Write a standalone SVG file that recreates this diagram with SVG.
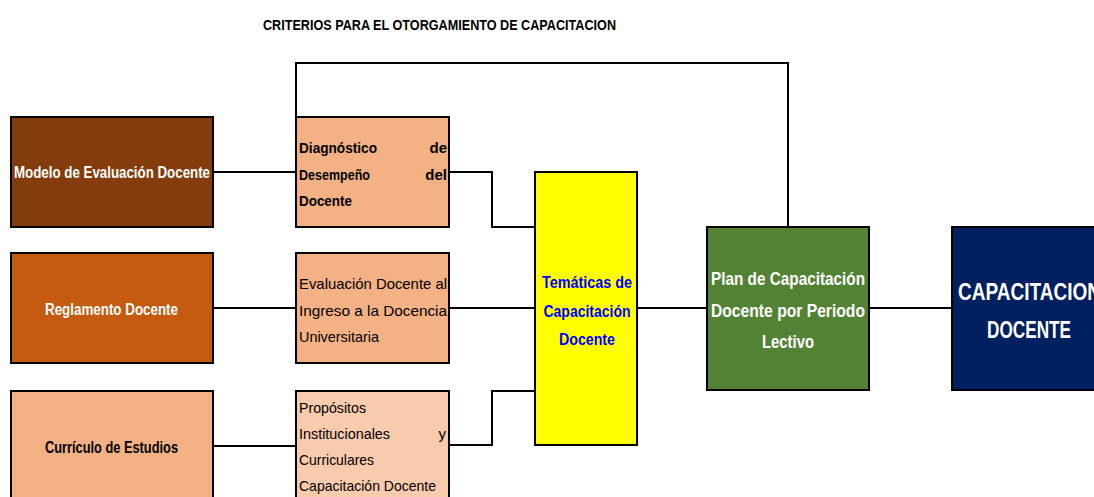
<svg xmlns="http://www.w3.org/2000/svg" width="1094" height="497" viewBox="0 0 1094 497">
<style>
text{font-family:"Liberation Sans",Arial,sans-serif;}
.b{font-weight:bold;}
.box{stroke:#000;stroke-width:2;}
.ln{fill:none;stroke:#000;stroke-width:2;}
.w{fill:#fff;}
.k{fill:#000;}
.mid{text-anchor:middle;}
</style>
<rect width="1094" height="497" fill="#fff"/>
<text id="title" class="b k" x="263" y="30" font-size="14.5" textLength="353" lengthAdjust="spacingAndGlyphs">CRITERIOS PARA EL OTORGAMIENTO DE CAPACITACION</text>
<g id="connectors">
<polyline class="ln" points="296,117 296,63 788,63 788,227"/>
<line class="ln" x1="213" y1="172" x2="296" y2="172"/>
<polyline class="ln" points="449,172 492,172 492,227 535,227"/>
<line class="ln" x1="213" y1="308" x2="296" y2="308"/>
<line class="ln" x1="449" y1="308" x2="535" y2="308"/>
<line class="ln" x1="213" y1="446" x2="296" y2="446"/>
<polyline class="ln" points="449,445 492,445 492,391 535,391"/>
<line class="ln" x1="637" y1="308" x2="707" y2="308"/>
<line class="ln" x1="869" y1="308" x2="952" y2="308"/>
</g>
<g id="modelo">
<rect class="box" x="11" y="117" width="202" height="110" fill="#843C0C"/>
<text class="b w" x="14" y="178" font-size="16" textLength="196" lengthAdjust="spacingAndGlyphs">Modelo de Evaluación Docente</text>
</g>
<g id="reglamento">
<rect class="box" x="11" y="253" width="202" height="110" fill="#C55A11"/>
<text class="b w" x="45" y="315" font-size="16" textLength="133" lengthAdjust="spacingAndGlyphs">Reglamento Docente</text>
</g>
<g id="curriculo">
<rect class="box" x="11" y="391" width="202" height="110" fill="#F4B183"/>
<text class="b k" x="45" y="453" font-size="16" textLength="133" lengthAdjust="spacingAndGlyphs">Currículo de Estudios</text>
</g>
<g id="diagnostico">
<rect class="box" x="296" y="117" width="153" height="110" fill="#F4B183"/>
<text class="b k" x="299" y="153" font-size="15" textLength="78" lengthAdjust="spacingAndGlyphs">Diagnóstico</text>
<text class="b k" x="447" y="153" font-size="15" text-anchor="end">de</text>
<text class="b k" x="299" y="179.5" font-size="15" textLength="71" lengthAdjust="spacingAndGlyphs">Desempeño</text>
<text class="b k" x="447" y="179.5" font-size="15" text-anchor="end">del</text>
<text class="b k" x="299" y="206" font-size="15" textLength="53" lengthAdjust="spacingAndGlyphs">Docente</text>
</g>
<g id="evaluacion">
<rect class="box" x="296" y="253" width="153" height="110" fill="#F4B183"/>
<text class="k" x="299" y="289" font-size="15" textLength="148" lengthAdjust="spacingAndGlyphs">Evaluación Docente al</text>
<text class="k" x="299" y="315.5" font-size="15" textLength="148" lengthAdjust="spacingAndGlyphs">Ingreso a la Docencia</text>
<text class="k" x="299" y="342" font-size="15" textLength="80" lengthAdjust="spacingAndGlyphs">Universitaria</text>
</g>
<g id="propositos">
<rect class="box" x="296" y="391" width="153" height="110" fill="#F8CBAD"/>
<text class="k" x="299" y="413" font-size="15" textLength="67" lengthAdjust="spacingAndGlyphs">Propósitos</text>
<text class="k" x="299" y="439" font-size="15" textLength="91" lengthAdjust="spacingAndGlyphs">Institucionales</text>
<text class="k" x="446" y="439" font-size="15" text-anchor="end">y</text>
<text class="k" x="299" y="465" font-size="15" textLength="75" lengthAdjust="spacingAndGlyphs">Curriculares</text>
<text class="k" x="299" y="491" font-size="15" textLength="137" lengthAdjust="spacingAndGlyphs">Capacitación Docente</text>
</g>
<g id="tematicas">
<rect class="box" x="535" y="172" width="102" height="273" fill="#FFFF00"/>
<text class="b mid" x="587" y="288" font-size="17" fill="#0000FF" textLength="90" lengthAdjust="spacingAndGlyphs">Temáticas de</text>
<text class="b mid" x="587" y="317" font-size="17" fill="#0000FF" textLength="87" lengthAdjust="spacingAndGlyphs">Capacitación</text>
<text class="b mid" x="587" y="345" font-size="17" fill="#0000FF" textLength="56" lengthAdjust="spacingAndGlyphs">Docente</text>
</g>
<g id="plan">
<rect class="box" x="707" y="227" width="162" height="163" fill="#548235"/>
<text class="b w mid" x="788" y="285" font-size="18.5" textLength="154" lengthAdjust="spacingAndGlyphs">Plan de Capacitación</text>
<text class="b w mid" x="788" y="316.5" font-size="18.5" textLength="154" lengthAdjust="spacingAndGlyphs">Docente por Periodo</text>
<text class="b w mid" x="788" y="348" font-size="18.5" textLength="52" lengthAdjust="spacingAndGlyphs">Lectivo</text>
</g>
<g id="capacitacion">
<rect class="box" x="952" y="227" width="150" height="163" fill="#002060"/>
<text class="b w" x="958" y="300" font-size="24.5" textLength="143" lengthAdjust="spacingAndGlyphs">CAPACITACION</text>
<text class="b w mid" x="1029" y="338" font-size="24.5" textLength="84" lengthAdjust="spacingAndGlyphs">DOCENTE</text>
</g>
</svg>
